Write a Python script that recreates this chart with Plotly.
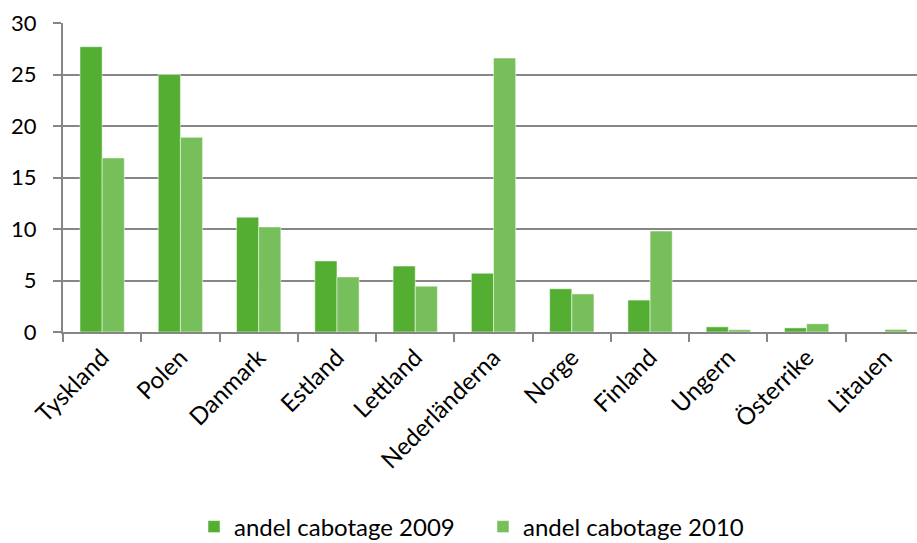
import plotly.graph_objects as go

categories = ["Tyskland", "Polen", "Danmark", "Estland", "Lettland", "Nederländerna",
              "Norge", "Finland", "Ungern", "Österrike", "Litauen"]
andel_2009 = [27.7, 25.0, 11.15, 6.9, 6.4, 5.7, 4.2, 3.1, 0.5, 0.4, 0.0]
andel_2010 = [16.9, 18.9, 10.2, 5.35, 4.45, 26.6, 3.7, 9.8, 0.22, 0.8, 0.25]
series_names = ["andel cabotage 2009", "andel cabotage 2010"]
y_ticks = [0, 5, 10, 15, 20, 25, 30]

FONT = "Lato, 'Open Sans', sans-serif"

fig = go.Figure()
fig.add_trace(go.Bar(x=categories, y=andel_2009, name=series_names[0],
                     marker=dict(color="#53AE32", line=dict(color="rgba(255,255,255,0.5)", width=1))))
fig.add_trace(go.Bar(x=categories, y=andel_2010, name=series_names[1],
                     marker=dict(color="#77BF5B", line=dict(color="rgba(255,255,255,0.5)", width=1))))

fig.update_layout(
    width=917, height=543,
    margin=dict(l=63, r=0, t=23, b=211),
    paper_bgcolor="white", plot_bgcolor="white",
    barmode="group", bargap=0.434, bargroupgap=0,
    font=dict(family=FONT, size=22, color="black"),
    legend=dict(orientation="h", xref="container", x=194 / 917, xanchor="left",
                yref="container", y=(543 - 527) / 543, yanchor="middle",
                font=dict(size=24), itemwidth=30, traceorder="normal",
                entrywidth=244, entrywidthmode="pixels"),
    showlegend=True,
)
fig.update_xaxes(
    type="category", range=[-0.5, 10.41], automargin=False,
    tickangle=-45, ticks="outside", tickson="boundaries", ticklen=8,
    tickcolor="#868686", tickwidth=2,
    showline=True, linecolor="#868686", linewidth=2,
    showgrid=False, tickfont=dict(size=24),
)
fig.update_yaxes(
    range=[0, 30], tickvals=y_ticks, ticks="outside", ticklen=8, automargin=False,
    tickcolor="#868686", tickwidth=2, ticklabelstandoff=12,
    showline=True, linecolor="#868686", linewidth=2,
    showgrid=True, gridcolor="#868686", gridwidth=2,
    zeroline=False, tickfont=dict(size=22),
)

fig.write_html("out.html", config={"displayModeBar": False},
               post_script="document.body.style.margin='0px';document.body.style.overflow='hidden';")
